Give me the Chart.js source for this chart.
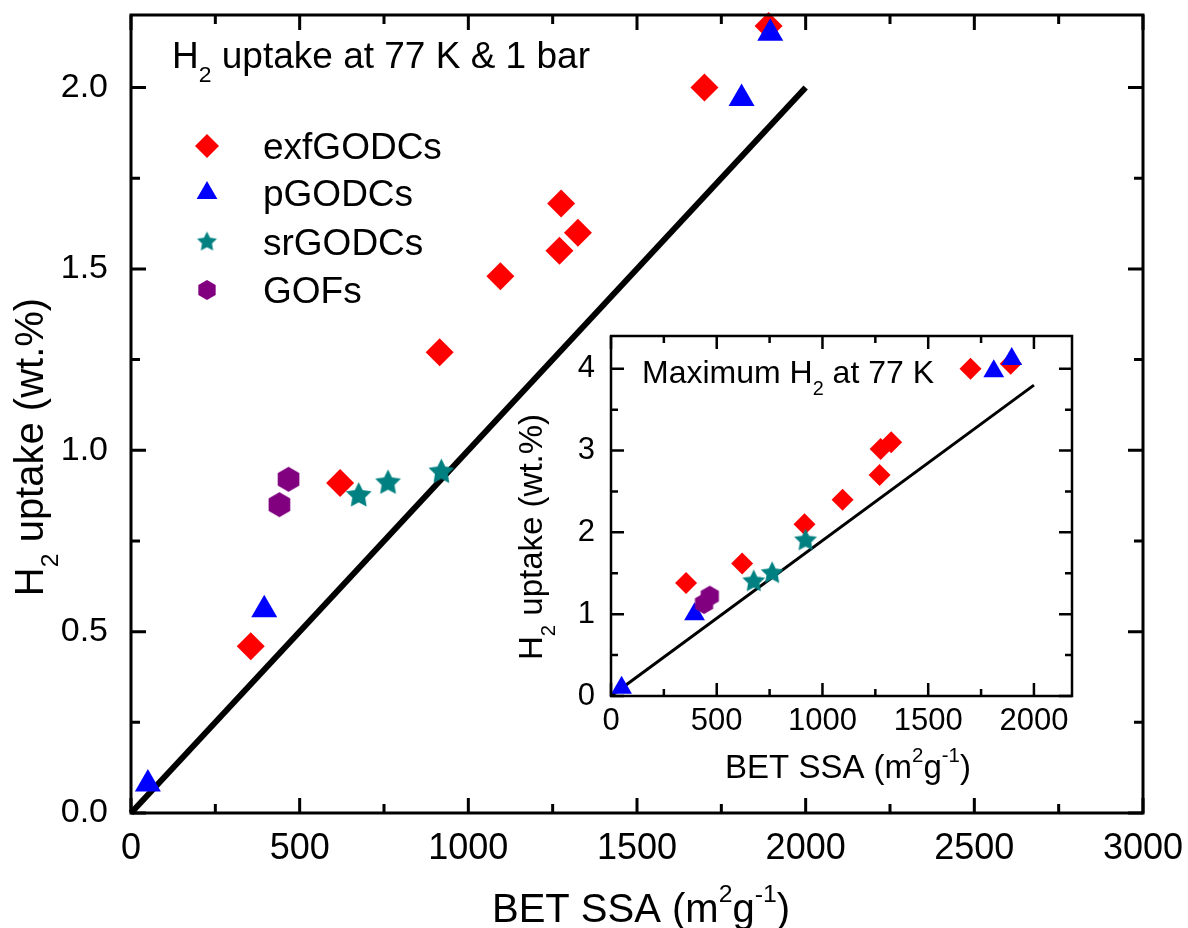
<!DOCTYPE html>
<html>
<head>
<meta charset="utf-8">
<title>H2 uptake vs BET SSA</title>
<script src="https://cdn.jsdelivr.net/npm/chart.js"></script>
<style>
  body { margin: 0; background: #fff; }
  #wrap { position: relative; width: 1188px; height: 928px; }
  #main { position: absolute; left: 0; top: 0; }
  #inset { position: absolute; left: 500px; top: 320px; }
</style>
</head>
<body>
<div id="wrap">
  <canvas id="main" width="1188" height="928"></canvas>
  <canvas id="inset" width="600" height="480"></canvas>
</div>
<script>
// BET surface area (m2/g) against H2 uptake (wt.%) at 77 K and 1 bar
const exfSSA = [355, 620, 915, 1095, 1270, 1275, 1325, 1700, 1890];
const exfH2 = [0.46, 0.91, 1.27, 1.48, 1.55, 1.68, 1.60, 2.00, 2.17];
const pSSA = [50, 395, 1810, 1895];
const pH2 = [0.08, 0.56, 1.97, 2.15];
const srSSA = [675, 762, 920];
const srH2 = [0.875, 0.91, 0.94];
const gofSSA = [440, 467];
const gofH2 = [0.85, 0.92];
const trendSSA = [0, 2000];
const trendH2 = [0, 2.0];

// maximum H2 uptake at 77 K (inset), same samples
const exfMax = [1.38, 1.62, 2.10, 2.40, 2.70, 3.02, 3.10, 4.00, 4.06];
const pMax = [0.10, 1.00, 3.97, 4.12];
const srMax = [1.40, 1.50, 1.90];
const gofMax = [1.13, 1.22];
const trendMax = [0, 3.8];

const seriesNames = ["exfGODCs", "pGODCs", "srGODCs", "GOFs"];

const xTicks = [0, 500, 1000, 1500, 2000, 2500, 3000];
const yTicks = [0, 0.5, 1.0, 1.5, 2.0];
const insetXTicks = [0, 500, 1000, 1500, 2000];
const insetYTicks = [0, 1, 2, 3, 4];

const FONT = '"Liberation Sans", Arial, sans-serif';
const RED = "#ff0000", BLUE = "#0000ff", TEAL = "#008080", PURPLE = "#800080";

// filled 5-point star and hexagon, used as point styles
function starImage(r, color) {
    const s = Math.ceil(2 * r + 2);
    const c = document.createElement("canvas");
    c.width = s;
    c.height = s;
    const g = c.getContext("2d");
    g.translate(s / 2, s / 2);
    g.beginPath();
    for (let i = 0; i < 10; i++) {
        const rr = i % 2 ? r * 0.5 : r;
        const a = -Math.PI / 2 + (i * Math.PI) / 5;
        g.lineTo(rr * Math.cos(a), rr * Math.sin(a));
    }
    g.closePath();
    g.fillStyle = color;
    g.fill();
    return c;
}

function hexImage(r, color) {
    const s = Math.ceil(2 * r + 2);
    const c = document.createElement("canvas");
    c.width = s;
    c.height = s;
    const g = c.getContext("2d");
    g.translate(s / 2, s / 2);
    g.beginPath();
    for (let i = 0; i < 6; i++) {
        const a = -Math.PI / 2 + (i * Math.PI) / 3;
        g.lineTo(r * Math.cos(a), r * Math.sin(a));
    }
    g.closePath();
    g.fillStyle = color;
    g.fill();
    return c;
}

const pts = (xs, ys) => xs.map((x, i) => ({ x: x, y: ys[i] }));

function series(xs, ys, style, r, color, order) {
    return {
        data: pts(xs, ys),
        pointStyle: style,
        pointRadius: r,
        pointBackgroundColor: color,
        pointBorderWidth: 0,
        showLine: false,
        order: order,
        clip: false,
    };
}

function trend(xs, ys, w) {
    return {
        data: pts(xs, ys),
        showLine: true,
        pointRadius: 0,
        borderColor: "#000",
        borderWidth: w,
        order: 9,
        clip: false,
    };
}

// text with sub/superscripts: parts = [[text, "sub"|"sup"|undefined], ...]
function drawRich(ctx, parts, size, x, y, align, angle) {
    const fontOf = (p) => (p[1] ? size * 0.62 : size) + "px " + FONT;
    ctx.save();
    ctx.translate(x, y);
    if (angle) ctx.rotate(angle);
    let w = 0;
    parts.forEach((p) => {
        ctx.font = fontOf(p);
        w += ctx.measureText(p[0]).width;
    });
    let cx = align === "center" ? -w / 2 : 0;
    ctx.fillStyle = "#000";
    ctx.textAlign = "left";
    ctx.textBaseline = "alphabetic";
    parts.forEach((p) => {
        ctx.font = fontOf(p);
        const dy = p[1] === "sub" ? size * 0.38 : p[1] === "sup" ? -size * 0.5 : 0;
        ctx.fillText(p[0], cx, dy);
        cx += ctx.measureText(p[0]).width;
    });
    ctx.restore();
}

// box round the plot with inward ticks on all four sides
const framePlugin = {
    id: "frame",
    afterDatasetsDraw(chart, args, o) {
        const { ctx, chartArea: a } = chart;
        const xs = chart.scales.x, ys = chart.scales.y;
        const minor = (vals, max) => {
            const out = [];
            const step = vals[1] - vals[0];
            for (let i = 0; i < vals.length; i++) {
                const m = vals[i] + step / 2;
                if (m < max) out.push(m);
            }
            return out;
        };
        ctx.save();
        ctx.strokeStyle = "#000";
        ctx.lineWidth = o.width;
        ctx.lineCap = "butt";
        const tickX = (vals, len) => vals.forEach((v) => {
            const px = xs.getPixelForValue(v);
            ctx.beginPath();
            ctx.moveTo(px, a.bottom);
            ctx.lineTo(px, a.bottom - len);
            ctx.moveTo(px, a.top);
            ctx.lineTo(px, a.top + len);
            ctx.stroke();
        });
        const tickY = (vals, len) => vals.forEach((v) => {
            const py = ys.getPixelForValue(v);
            ctx.beginPath();
            ctx.moveTo(a.left, py);
            ctx.lineTo(a.left + len, py);
            ctx.moveTo(a.right, py);
            ctx.lineTo(a.right - len, py);
            ctx.stroke();
        });
        tickX(o.xTicks, o.major);
        tickX(minor(o.xTicks, xs.max), o.minor);
        tickY(o.yTicks, o.major);
        tickY(minor(o.yTicks, ys.max), o.minor);
        ctx.strokeRect(a.left, a.top, a.right - a.left, a.bottom - a.top);
        ctx.restore();
    },
};

// titles, axis titles and the legend
const notesPlugin = {
    id: "notes",
    afterDraw(chart, args, o) {
        const ctx = chart.ctx;
        (o.texts || []).forEach((t) => drawRich(ctx, t.parts, t.size, t.x, t.y, t.align, t.angle));
        if (o.legend) {
            const L = o.legend;
            L.items.forEach((it, i) => {
                const y = L.rows[i];
                ctx.save();
                ctx.fillStyle = it.color;
                Chart.helpers.drawPoint(ctx, { pointStyle: it.style, radius: it.r, rotation: 0, borderWidth: 0 }, L.x, y);
                ctx.restore();
                drawRich(ctx, [[seriesNames[i]]], L.size, L.textX, y + L.size * 0.36, "left", 0);
            });
        }
    },
};

function axis(o, horizontal) {
    return {
        type: "linear",
        min: o.min,
        max: o.max,
        grid: { display: false, drawTicks: false },
        border: { display: false },
        ticks: {
            autoSkip: false,
            maxRotation: 0,
            padding: o.pad,
            color: "#000",
            font: { family: FONT, size: o.font },
            callback: o.fmt,
        },
        afterBuildTicks: (sc) => {
            sc.ticks = o.ticks.map((v) => ({ value: v }));
        },
        afterFit: (sc) => {
            if (horizontal) sc.height = o.size;
            else sc.width = o.size;
            sc.paddingLeft = sc.paddingRight = sc.paddingTop = sc.paddingBottom = 0;
        },
    };
}

function buildChart(canvas, s) {
    return new Chart(canvas, {
        type: "scatter",
        data: { datasets: s.datasets },
        options: {
            responsive: false,
            animation: false,
            events: [],
            layout: { padding: s.padding },
            plugins: {
                legend: { display: false },
                tooltip: { enabled: false },
                frame: s.frame,
                notes: s.notes,
            },
            scales: { x: axis(s.x, true), y: axis(s.y, false) },
        },
        plugins: [framePlugin, notesPlugin],
    });
}

const sub = "sub", sup = "sup";
const h2Label = [["H"], ["2", sub], [" uptake (wt.%)"]];
const ssaLabel = [["BET SSA (m"], ["2", sup], ["g"], ["-1", sup], [")"]];

buildChart(document.getElementById("main"), {
    datasets: [
        series(exfSSA, exfH2, "rectRot", 14, RED, 3),
        series(pSSA, pH2, "triangle", 15, BLUE, 2),
        series(srSSA, srH2, starImage(13.5, TEAL), 13, TEAL, 1),
        series(gofSSA, gofH2, hexImage(12.5, PURPLE), 12, PURPLE, 0),
        trend(trendSSA, trendH2, 6),
    ],
    padding: { left: 0, top: 12, right: 45, bottom: 0 },
    x: { min: 0, max: 3000, ticks: xTicks, font: 36, pad: 14, size: 115, fmt: (v) => String(v) },
    y: { min: 0, max: 2.2, ticks: yTicks, font: 34, pad: 23, size: 131, fmt: (v) => v.toFixed(1) },
    frame: { width: 3, major: 15, minor: 9, xTicks: xTicks, yTicks: yTicks },
    notes: {
        texts: [
            { parts: [["H"], ["2", sub], [" uptake at 77 K & 1 bar"]], size: 37, x: 172, y: 68, align: "left" },
            { parts: ssaLabel, size: 40, x: 641, y: 922, align: "center" },
            { parts: h2Label, size: 40, x: 43, y: 447, align: "center", angle: -Math.PI / 2 },
        ],
        legend: {
            x: 207,
            textX: 263,
            rows: [146, 193, 242, 290],
            size: 37,
            items: [
                { style: "rectRot", r: 12, color: RED },
                { style: "triangle", r: 12, color: BLUE },
                { style: starImage(10.5, TEAL), r: 10, color: TEAL },
                { style: hexImage(10, PURPLE), r: 10, color: PURPLE },
            ],
        },
    },
});

buildChart(document.getElementById("inset"), {
    datasets: [
        series(exfSSA, exfMax, "rectRot", 11, RED, 3),
        series(pSSA, pMax, "triangle", 12, BLUE, 2),
        series(srSSA, srMax, starImage(12, TEAL), 11, TEAL, 1),
        series(gofSSA, gofMax, hexImage(10.5, PURPLE), 10, PURPLE, 0),
        trend(trendSSA, trendMax, 3),
    ],
    padding: { left: 0, top: 16, right: 28, bottom: 0 },
    x: { min: 0, max: 2180, ticks: insetXTicks, font: 31, pad: 7, size: 104, fmt: (v) => String(v) },
    y: { min: 0, max: 4.4, ticks: insetYTicks, font: 31, pad: 16, size: 111, fmt: (v) => String(v) },
    frame: { width: 2.5, major: 13, minor: 7, xTicks: insetXTicks, yTicks: insetYTicks },
    notes: {
        texts: [
            { parts: [["Maximum H"], ["2", sub], [" at 77 K"]], size: 32, x: 142, y: 63, align: "left" },
            { parts: ssaLabel, size: 33, x: 348, y: 458, align: "center" },
            { parts: h2Label, size: 33, x: 42, y: 217, align: "center", angle: -Math.PI / 2 },
        ],
    },
});
</script>
</body>
</html>
